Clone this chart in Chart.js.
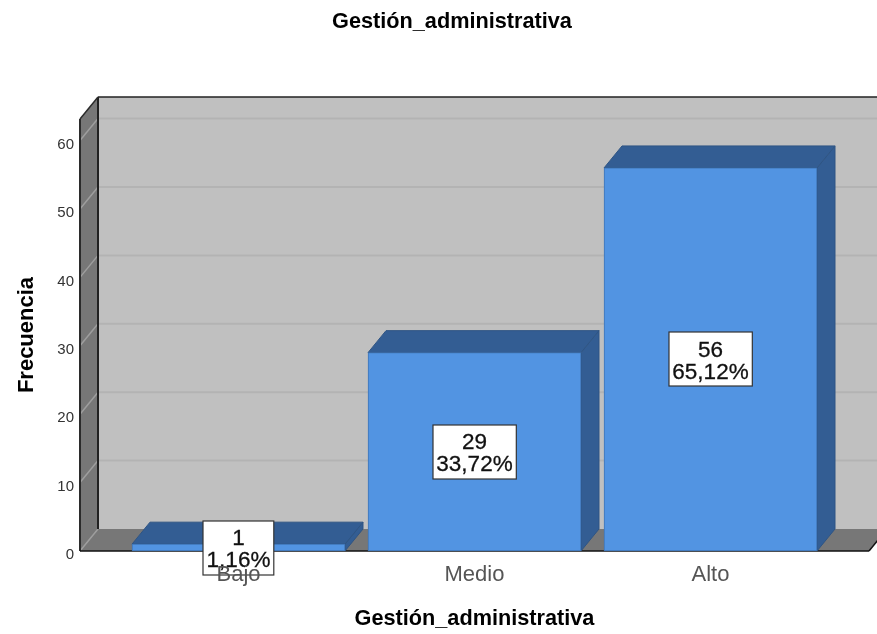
<!DOCTYPE html>
<html>
<head>
<meta charset="utf-8">
<title>Gestión_administrativa</title>
<script src="https://cdn.jsdelivr.net/npm/chart.js@4"></script>
<style>
html, body { margin: 0; padding: 0; background: #fff; overflow: hidden; width: 877px; height: 634px; }
</style>
</head>
<body>
<canvas id="myChart" width="904" height="634"></canvas>
<script>
var categories = ['Bajo', 'Medio', 'Alto'];
var counts = [1, 29, 56];
var percents = ['1,16%', '33,72%', '65,12%'];
var yTicks = [0, 10, 20, 30, 40, 50, 60];
var chartTitle = 'Gestión_administrativa';
var yTitle = 'Frecuencia';

var fontName = '"Liberation Sans", Arial, sans-serif';
var depthX = 18;
var depthY = 22;

function poly(ctx, pts, fill, stroke) {
    ctx.beginPath();
    pts.forEach(function (p, i) {
        if (i === 0) ctx.moveTo(p[0], p[1]);
        else ctx.lineTo(p[0], p[1]);
    });
    ctx.closePath();
    if (fill) { ctx.fillStyle = fill; ctx.fill(); }
    if (stroke) { ctx.strokeStyle = stroke; ctx.lineWidth = 1; ctx.stroke(); }
}

function line(ctx, x1, y1, x2, y2, color, width) {
    ctx.beginPath();
    ctx.moveTo(x1, y1);
    ctx.lineTo(x2, y2);
    ctx.strokeStyle = color;
    ctx.lineWidth = width;
    ctx.stroke();
}

// back wall, side wall, floor and the depth faces of the bars
var box3d = {
    id: 'box3d',
    // the title sits a bit right of the page centre in the original
    afterLayout: function (chart) {
        chart.titleBlock.left += 17.5;
        chart.titleBlock.right += 17.5;
    },
    beforeDatasetsDraw: function (chart) {
        var ctx = chart.ctx;
        var a = chart.chartArea;
        var y = chart.scales.y;
        ctx.save();
        poly(ctx, [[a.left + depthX, a.top - depthY], [a.right + depthX, a.top - depthY], [a.right + depthX, a.bottom - depthY], [a.left + depthX, a.bottom - depthY]], '#c0c0c0');
        poly(ctx, [[a.left, a.top], [a.left + depthX, a.top - depthY], [a.left + depthX, a.bottom - depthY], [a.left, a.bottom]], '#777777');
        poly(ctx, [[a.left, a.bottom], [a.left + depthX, a.bottom - depthY], [a.right + depthX, a.bottom - depthY], [a.right, a.bottom]], '#777777');
        yTicks.forEach(function (t) {
            var py = y.getPixelForValue(t);
            if (t > 0) line(ctx, a.left + depthX, py - depthY, a.right + depthX, py - depthY, '#b3b3b3', 2);
            line(ctx, a.left, py, a.left + depthX, py - depthY, '#9e9e9e', 1.5);
        });
        line(ctx, a.left + depthX, a.top - depthY, a.left + depthX, a.bottom - depthY, '#222222', 2);
        line(ctx, a.left, a.top, a.left, a.bottom, '#2b2b2b', 2);
        line(ctx, a.left, a.top, a.left + depthX, a.top - depthY, '#2b2b2b', 1.5);
        line(ctx, a.left + depthX, a.top - depthY, a.right + depthX, a.top - depthY, '#222222', 1.5);
        line(ctx, a.left, a.bottom, a.right, a.bottom, '#111111', 1.5);
        line(ctx, a.right, a.bottom, a.right + depthX, a.bottom - depthY, '#111111', 1.5);

        chart.getDatasetMeta(0).data.forEach(function (bar) {
            var l = bar.x - bar.width / 2;
            var r = bar.x + bar.width / 2;
            poly(ctx, [[r, bar.y], [r + depthX, bar.y - depthY], [r + depthX, bar.base - depthY], [r, bar.base]], '#335d93', '#2f5584');
            poly(ctx, [[l, bar.y], [l + depthX, bar.y - depthY], [r + depthX, bar.y - depthY], [r, bar.y]], '#335d93', '#2f5584');
        });
        ctx.restore();
    },
    // boxes with count and percent in the middle of each bar
    afterDatasetsDraw: function (chart) {
        var ctx = chart.ctx;
        ctx.save();
        ctx.font = '22.5px ' + fontName;
        ctx.textAlign = 'center';
        ctx.textBaseline = 'middle';
        chart.getDatasetMeta(0).data.forEach(function (bar, i) {
            var cy = (bar.y + bar.base) / 2;
            var w = ctx.measureText(percents[i]).width + 7;
            var h = 54;
            var left = Math.round(bar.x - w / 2);
            var top = Math.round(cy - h / 2);
            ctx.fillStyle = '#ffffff';
            ctx.fillRect(left, top, w, h);
            ctx.strokeStyle = '#333333';
            ctx.lineWidth = 1.2;
            ctx.strokeRect(left, top, w, h);
            ctx.fillStyle = '#111111';
            ctx.strokeStyle = '#111111';
            ctx.lineWidth = 0.3;
            ctx.fillText(String(counts[i]), bar.x, cy - 9);
            ctx.strokeText(String(counts[i]), bar.x, cy - 9);
            ctx.fillText(percents[i], bar.x, cy + 13);
            ctx.strokeText(percents[i], bar.x, cy + 13);
        });
        ctx.restore();
    }
};

var ctx = document.getElementById('myChart').getContext('2d');

var myChart = new Chart(ctx, {
    type: 'bar',
    data: {
        datasets: [{
            label: 'Frecuencia',
            data: counts.map(function (v, i) { return { x: i, y: v }; }),
            backgroundColor: '#5294e2',
            borderColor: '#3f74b4',
            borderWidth: 1,
            borderSkipped: false,
            barThickness: 213,
            clip: false
        }]
    },
    options: {
        responsive: false,
        animation: false,
        devicePixelRatio: 1,
        layout: { padding: { left: 0, right: 35, top: 0, bottom: 0 } },
        plugins: {
            legend: { display: false },
            tooltip: { enabled: false },
            title: {
                display: true,
                text: chartTitle,
                color: '#000000',
                font: { family: fontName, size: 21.7, weight: 'bold' },
                padding: { top: 9, bottom: 84 }
            }
        },
        scales: {
            x: {
                type: 'linear',
                offset: false,
                min: -0.6716,
                max: 2.6716,
                grid: { display: false, offset: false },
                border: { display: false },
                afterBuildTicks: function (scale) {
                    scale.ticks = categories.map(function (c, i) { return { value: i }; });
                },
                afterFit: function (scale) { scale.height = 83; },
                ticks: {
                    z: 1, // Bajo is printed over its value box
                    autoSkip: false,
                    maxRotation: 0,
                    minRotation: 0,
                    padding: 3,
                    color: '#555555',
                    font: { family: fontName, size: 22 },
                    callback: function (v) { return categories[v]; }
                },
                title: {
                    display: true,
                    text: chartTitle,
                    color: '#000000',
                    font: { family: fontName, size: 21.7, weight: 'bold' },
                    padding: { top: 0, bottom: 2 }
                }
            },
            y: {
                min: 0,
                max: 63.15,
                grid: { display: false, drawTicks: false },
                border: { display: false },
                afterBuildTicks: function (scale) {
                    scale.ticks = yTicks.map(function (t) { return { value: t }; });
                },
                afterFit: function (scale) { scale.width = 80; },
                ticks: {
                    padding: 6,
                    labelOffset: 4,
                    color: '#333333',
                    font: { family: fontName, size: 15 }
                },
                title: {
                    display: true,
                    text: yTitle,
                    color: '#000000',
                    font: { family: fontName, size: 22, weight: 'bold' },
                    padding: { top: 14, bottom: 0 }
                }
            }
        }
    },
    plugins: [box3d]
});
</script>
</body>
</html>
